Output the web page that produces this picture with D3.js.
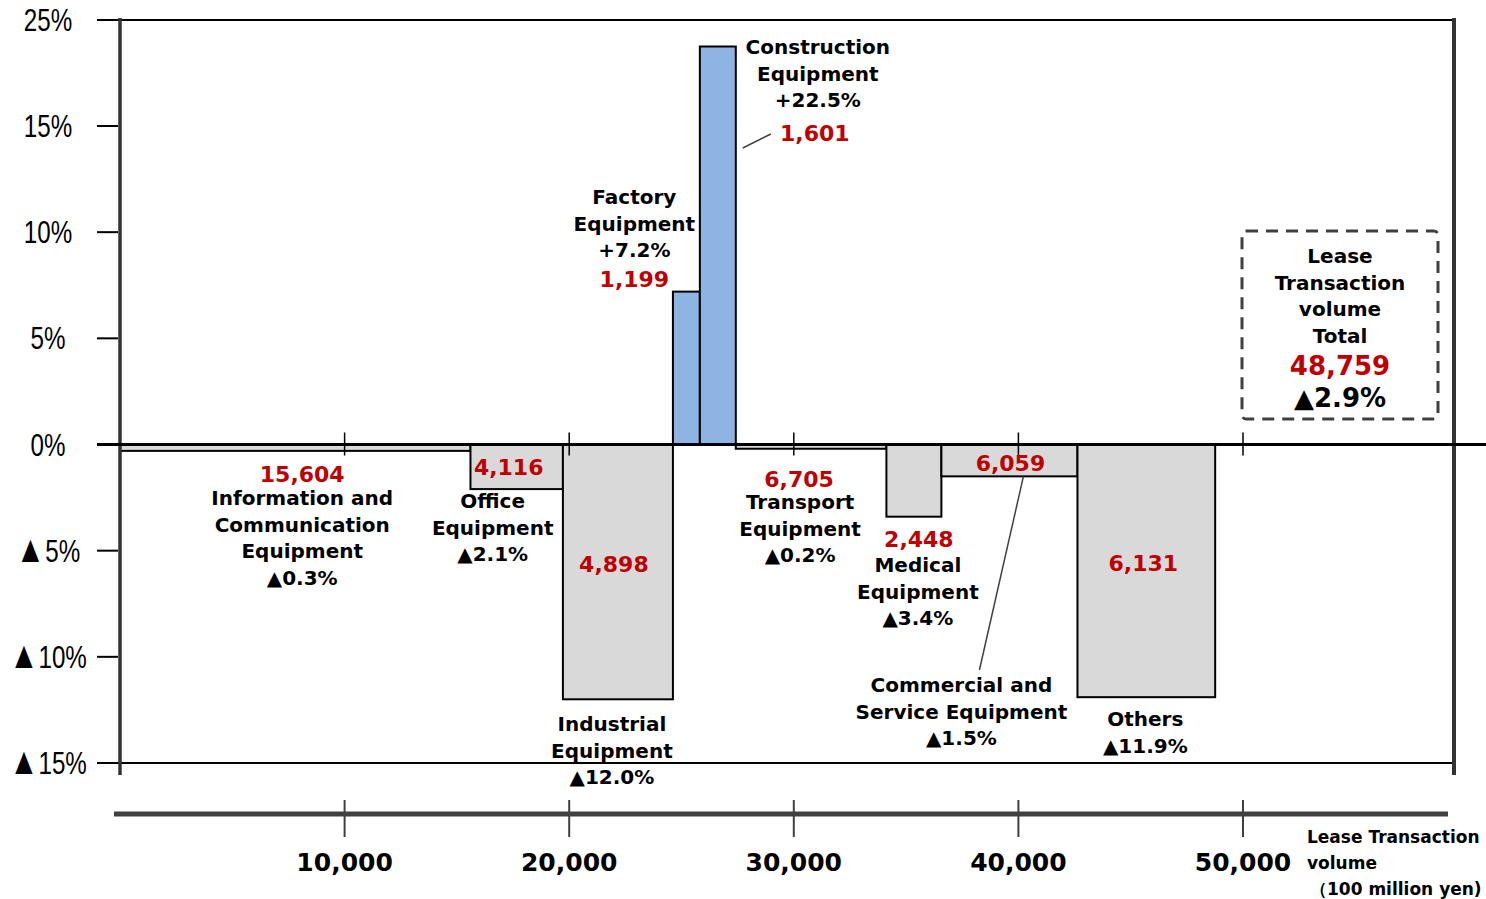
<!DOCTYPE html>
<html>
<head>
<meta charset="utf-8">
<script src="https://cdn.jsdelivr.net/npm/d3@7"></script>
<style>
  body { margin: 0; background: #fff; }
  svg text { font-family: 'DejaVu Sans', Verdana, sans-serif; font-weight: bold; }
  .ylab { font-family: 'Liberation Sans Narrow', 'Liberation Sans', sans-serif !important; font-weight: normal !important; }
</style>
</head>
<body>
<div class="grafico"></div>
<script>
/*Datos*/
const categories = ['Information and Communication Equipment', 'Office Equipment', 'Industrial Equipment',
  'Factory Equipment', 'Construction Equipment', 'Transport Equipment', 'Medical Equipment',
  'Commercial and Service Equipment', 'Others'];
const nameLines = [['Information and', 'Communication', 'Equipment'], ['Office', 'Equipment'], ['Industrial', 'Equipment'],
  ['Factory', 'Equipment'], ['Construction', 'Equipment'], ['Transport', 'Equipment'], ['Medical', 'Equipment'],
  ['Commercial and', 'Service Equipment'], ['Others']];
const volumes = [15604, 4116, 4898, 1199, 1601, 6705, 2448, 6059, 6131]; /*100 million yen*/
const growth = [-0.3, -2.1, -12.0, 7.2, 22.5, -0.2, -3.4, -1.5, -11.9]; /*% yoy*/
const totalVolume = 48759;
const totalGrowth = -2.9;
const yTicks = [25, 15, 10, 5, 0, -5, -10, -15];
const xTicks = [10000, 20000, 30000, 40000, 50000];

/*Posición de etiquetas (dx desde el centro de la barra, y en px)*/
const numPos = [[7, 482], [-8, 475], [-4, 572], [-52, 287], [97, 141], [-12, 487], [5, 547], [1, 471], [-3, 571]];
const namePos = [[7, 505], [-24, 508], [-6, 731], [-52, 204], [100, 54], [-11, 509], [4, 572], [-48, 692], [-1, 726]];

const w = 1486, h = 899;
const lineH = 26.7;

const fmtNum = d3.format(',');
const fmtPct = (v) => (v < 0 ? '▲' : '+') + Math.abs(v).toFixed(1) + '%';

/*Escalas*/
const xScale = d3.scaleLinear().domain([0, 50000]).range([120, 1243]);
/*eje cortado entre 15% y 25%*/
const yScale = d3.scaleLinear().domain([-15, 15, 25]).range([763, 126, 20]);

/*Acumulados*/
let acc = 0;
const bars = volumes.map((v, i) => {
  const b = { i: i, name: categories[i], x0: acc, x1: acc + v, g: growth[i] };
  acc += v;
  return b;
});

const svg = d3.select('.grafico').append('svg')
  .attr('width', w).attr('height', h);

/*Marco*/
svg.append('line').attr('x1', 97).attr('x2', 1452).attr('y1', 20).attr('y2', 20)
  .attr('stroke', '#000').attr('stroke-width', 2);
svg.append('line').attr('x1', 97).attr('x2', 1452).attr('y1', yScale(-15)).attr('y2', yScale(-15))
  .attr('stroke', '#000').attr('stroke-width', 2);
svg.append('line').attr('x1', 1454).attr('x2', 1454).attr('y1', 18).attr('y2', 775)
  .attr('stroke', '#333').attr('stroke-width', 4);

/*Barras*/
svg.selectAll('rect.bar')
  .data(bars)
  .enter()
  .append('rect')
  .attr('class', 'bar')
  .attr('x', (d) => xScale(d.x0))
  .attr('y', (d) => yScale(Math.max(0, d.g)))
  .attr('width', (d) => xScale(d.x1) - xScale(d.x0))
  .attr('height', (d) => Math.abs(yScale(d.g) - yScale(0)))
  .attr('fill', (d) => d.g > 0 ? '#8db4e2' : '#d9d9d9')
  .attr('stroke', '#000')
  .attr('stroke-width', 2);

/*Eje y*/
const yAxis = svg.append('g').attr('transform', 'translate(120,0)');
yAxis.append('line').attr('x1', 0).attr('x2', 0).attr('y1', 18).attr('y2', 775)
  .attr('stroke', '#333').attr('stroke-width', 3.5);
yAxis.selectAll('line.tick')
  .data(yTicks.filter((t) => t !== 0 && t !== 25 && t !== -15))
  .enter().append('line')
  .attr('class', 'tick')
  .attr('x1', -23).attr('x2', -2)
  .attr('y1', (d) => yScale(d)).attr('y2', (d) => yScale(d))
  .attr('stroke', '#000').attr('stroke-width', 2);
/*etiquetas estrechas*/
const ylabs = yAxis.selectAll('text')
  .data(yTicks)
  .enter().append('text')
  .attr('class', 'ylab')
  .attr('transform', (d) => `translate(-72,${yScale(d) + 11}) scale(0.78,1)`)
  .attr('text-anchor', 'middle')
  .attr('font-size', 31);
ylabs.filter((d) => d < 0).append('tspan')
  .attr('font-size', 38)
  .text('▲');
ylabs.append('tspan')
  .text((d) => Math.abs(d) + '%');

/*Línea de cero*/
svg.append('line').attr('x1', 97).attr('x2', w).attr('y1', yScale(0)).attr('y2', yScale(0))
  .attr('stroke', '#000').attr('stroke-width', 3);
svg.selectAll('line.ztick')
  .data(xTicks)
  .enter().append('line')
  .attr('class', 'ztick')
  .attr('x1', (d) => xScale(d)).attr('x2', (d) => xScale(d))
  .attr('y1', yScale(0) - 12).attr('y2', yScale(0) + 11)
  .attr('stroke', '#000').attr('stroke-width', 1.5);

/*Eje x inferior*/
const xg = svg.append('g').attr('transform', 'translate(0,814)');
xg.append('line').attr('x1', 114).attr('x2', 1448).attr('y1', 0).attr('y2', 0)
  .attr('stroke', '#404040').attr('stroke-width', 5);
xg.selectAll('line.tick')
  .data(xTicks).enter().append('line')
  .attr('class', 'tick')
  .attr('x1', (d) => xScale(d)).attr('x2', (d) => xScale(d))
  .attr('y1', -14).attr('y2', 23)
  .attr('stroke', '#404040').attr('stroke-width', 2);
xg.selectAll('text')
  .data(xTicks).enter().append('text')
  .attr('x', (d) => xScale(d))
  .attr('y', 57)
  .attr('text-anchor', 'middle')
  .attr('font-size', 25)
  .attr('fill', '#000')
  .text((d) => fmtNum(d));

/*Título eje x*/
const xt = svg.append('text').attr('x', 1307).attr('y', 843).attr('font-size', 17);
xt.append('tspan').attr('x', 1307).text('Lease Transaction');
xt.append('tspan').attr('x', 1307).attr('dy', 26).text('volume');
xt.append('tspan').attr('x', 1310).attr('dy', 26).text('（100 million yen)');

/*Etiquetas de barras*/
const center = (b) => (xScale(b.x0) + xScale(b.x1)) / 2;

bars.forEach((b) => {
  const cx = center(b);
  svg.append('text')
    .attr('x', cx + numPos[b.i][0])
    .attr('y', numPos[b.i][1])
    .attr('text-anchor', 'middle')
    .attr('font-size', 22)
    .attr('fill', '#c00000')
    .text(fmtNum(volumes[b.i]));

  const lines = nameLines[b.i].concat([fmtPct(b.g)]);
  const t = svg.append('text')
    .attr('y', namePos[b.i][1])
    .attr('text-anchor', 'middle')
    .attr('font-size', 20)
    .attr('fill', '#000');
  lines.forEach((l, k) => {
    t.append('tspan')
      .attr('x', cx + namePos[b.i][0])
      .attr('dy', k === 0 ? 0 : lineH)
      .text(l);
  });
});

/*Líneas guía*/
const cons = bars[4], comm = bars[7];
svg.append('line')
  .attr('x1', xScale(cons.x1) + 7).attr('y1', 148)
  .attr('x2', xScale(cons.x1) + 35).attr('y2', 134)
  .attr('stroke', '#404040').attr('stroke-width', 1.5);
svg.append('line')
  .attr('x1', center(comm) + 14).attr('y1', yScale(comm.g))
  .attr('x2', center(comm) - 30).attr('y2', 670)
  .attr('stroke', '#404040').attr('stroke-width', 1.5);

/*Caja total*/
svg.append('rect')
  .attr('x', 1242).attr('y', 231).attr('width', 196).attr('height', 188)
  .attr('rx', 4)
  .attr('fill', 'none')
  .attr('stroke', '#404040')
  .attr('stroke-width', 3)
  .attr('stroke-dasharray', '12,8');
const tb = svg.append('text').attr('y', 263).attr('text-anchor', 'middle').attr('font-size', 20);
['Lease', 'Transaction', 'volume', 'Total'].forEach((l, k) => {
  tb.append('tspan').attr('x', 1340).attr('dy', k === 0 ? 0 : lineH).text(l);
});
svg.append('text').attr('x', 1340).attr('y', 375).attr('text-anchor', 'middle')
  .attr('font-size', 26).attr('fill', '#c00000').text(fmtNum(totalVolume));
svg.append('text').attr('x', 1340).attr('y', 407).attr('text-anchor', 'middle')
  .attr('font-size', 26).attr('fill', '#000').text(fmtPct(totalGrowth));
</script>
</body>
</html>
